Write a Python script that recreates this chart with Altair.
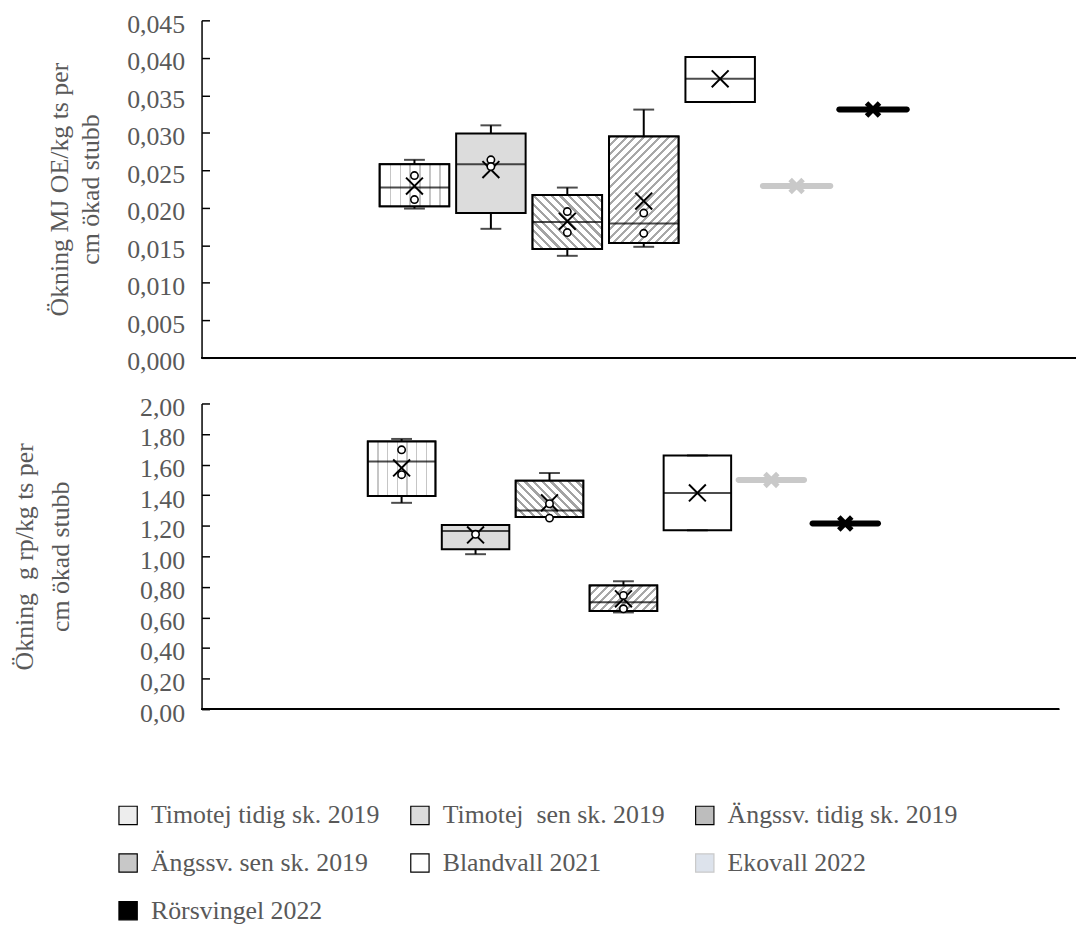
import math
import altair as alt
import pandas as pd

# ---------------- data ----------------
series = ["Timotej tidig sk. 2019", "Timotej\u00a0 sen sk. 2019", "Ängssv. tidig sk. 2019",
          "Ängssv. sen sk. 2019", "Blandvall 2021", "Ekovall 2022", "Rörsvingel 2022"]

# Top panel: Ökning MJ OE/kg ts per cm ökad stubb
mj_whisker_low = [0.0199, 0.0172, 0.0136, 0.0148, 0.0341, 0.0229, 0.0331]
mj_q1 = [0.0202, 0.0193, 0.0145, 0.0153, 0.0341, 0.0229, 0.0331]
mj_median = [0.0227, 0.0258, 0.0181, 0.0179, 0.0372, 0.0229, 0.0331]
mj_q3 = [0.0258, 0.0299, 0.0217, 0.0295, 0.0401, 0.0229, 0.0331]
mj_whisker_high = [0.0264, 0.0310, 0.0227, 0.0331, 0.0401, 0.0229, 0.0331]
mj_mean = [0.0229, 0.0251, 0.0182, 0.0209, 0.0372, 0.0229, 0.0331]
mj_point_series = [series[0], series[0], series[1], series[1], series[2], series[2], series[3], series[3]]
mj_points = [0.0243, 0.0211, 0.0264, 0.0255, 0.0195, 0.0167, 0.0193, 0.0166]
mj_ticks = [0.000, 0.005, 0.010, 0.015, 0.020, 0.025, 0.030, 0.035, 0.040, 0.045]

# Bottom panel: Ökning g rp/kg ts per cm ökad stubb
rp_whisker_low = [1.350, 1.014, 1.257, 0.633, 1.170, 1.500, 1.215]
rp_q1 = [1.394, 1.047, 1.257, 0.642, 1.170, 1.500, 1.215]
rp_median = [1.621, 1.166, 1.300, 0.700, 1.415, 1.500, 1.215]
rp_q3 = [1.751, 1.205, 1.495, 0.809, 1.660, 1.500, 1.215]
rp_whisker_high = [1.768, 1.205, 1.545, 0.837, 1.660, 1.500, 1.215]
rp_mean = [1.578, 1.140, 1.350, 0.722, 1.415, 1.500, 1.215]
rp_point_series = [series[0], series[0], series[1], series[2], series[2], series[3], series[3]]
rp_points = [1.697, 1.534, 1.144, 1.344, 1.250, 0.744, 0.657]
rp_ticks = [0.0, 0.2, 0.4, 0.6, 0.8, 1.0, 1.2, 1.4, 1.6, 1.8, 2.0]

# ---------------- styles ----------------
FONT = "Liberation Serif"
GREY = "#595959"
legend_fill = ["#ededed", "#dcdcdc", "#bdbdbd", "#c8c8c8", "#ffffff", "#dde3ec", "#000000"]
legend_stroke = ["#000000", "#000000", "#000000", "#000000", "#000000", "#c9c9c9", "#000000"]
XPATH = "M-1,-1L1,1M-1,1L1,-1"
SW = 2.0


def stripes(kind, w, h, spacing, color, frac, bg="#ffffff"):
    if kind == "vert":
        x1, y1, x2, y2 = 0, 0, 1, 0
        span = w
    else:
        c = (w + h) / (w * w + h * h)
        a, b = w * c, h * c
        span = (w + h) / math.sqrt(2)
        if kind == "fwd":
            x1, y1, x2, y2 = 0, 0, a, b
        else:
            x1, y1, x2, y2 = 0, 1, a, 1 - b
    n = max(1, round(span / spacing))
    stops = []
    for k in range(n):
        s, m, e = k / n, (k + frac) / n, (k + 1) / n
        stops += [{"offset": s, "color": color}, {"offset": m, "color": color},
                  {"offset": m, "color": bg}, {"offset": e, "color": bg}]
    return {"gradient": "linear", "x1": x1, "y1": y1, "x2": x2, "y2": y2, "stops": stops}


def panel(low, q1, med, q3, high, mean, pser, pvals, ticks, fmt, ymax,
          width, height, band_w, x_range, title, title_pad, title_lh, legend_y):
    df = pd.DataFrame({"series": series, "low": low, "q1": q1, "median": med,
                       "q3": q3, "high": high, "mean": mean})
    pts = pd.DataFrame({"series": pser, "value": pvals})

    step = (x_range[1] - x_range[0]) / len(series)
    p_inner = 1 - band_w / step
    x = alt.X("series:N", sort=series,
              scale=alt.Scale(domain=series, range=x_range, paddingInner=p_inner,
                              paddingOuter=p_inner / 2),
              axis=None)
    yscale = alt.Scale(domain=[0, ymax], nice=False, zero=True)

    label_axis = alt.Axis(values=ticks, orient="left",
                          labelExpr=f"replace(format(datum.value, '{fmt}'), '.', ',')",
                          labelFont=FONT, labelFontSize=26, labelColor=GREY, labelPadding=17,
                          labelOffset=4,
                          ticks=False, domain=True, domainColor="black", domainWidth=1.5,
                          grid=False, title=title, titleFont=FONT, titleFontSize=26,
                          titleFontWeight="normal", titleColor=GREY, titlePadding=title_pad,
                          titleLineHeight=title_lh)
    tick_axis = alt.Axis(values=ticks, orient="left", labels=False, domain=False, ticks=True,
                         tickSize=8, tickWidth=1.5, tickColor="black", offset=-8,
                         title=None, grid=False)

    def Y(field, axis=None):
        return alt.Y(f"{field}:Q", scale=yscale, axis=axis)

    five = alt.FieldOneOfPredicate(field="series", oneOf=series[:5])
    base = alt.Chart(df)

    legend = alt.Legend(orient="none", legendX=-87, legendY=legend_y, direction="horizontal",
                        columns=3, title=None, symbolType="square", symbolSize=340,
                        symbolStrokeWidth=1.2, labelFont=FONT, labelFontSize=26,
                        labelColor=GREY, labelLimit=600, rowPadding=22, columnPadding=27,
                        labelOffset=10, padding=0)

    layers = []
    # plain x-axis line along the bottom of the plot
    layers.append(base.mark_rule(color="black", strokeWidth=1.5).encode(
        x=alt.value(0), x2=alt.value(width), y=alt.value(height)))
    layers.append(base.transform_filter(five).mark_rule(color="black", strokeWidth=SW)
                  .encode(x=x, y=Y("low", label_axis), y2="high:Q"))
    layers.append(base.mark_bar(strokeWidth=SW).encode(
        x=x, y=Y("q1", tick_axis), y2="q3:Q",
        fill=alt.Fill("series:N", sort=series,
                      scale=alt.Scale(domain=series, range=legend_fill), legend=legend),
        stroke=alt.Stroke("series:N", sort=series,
                          scale=alt.Scale(domain=series, range=legend_stroke), legend=legend)))

    px = height / ymax
    patterns = {
        0: ("vert", 10, "#c6c6c6", 0.13),
        2: ("back", 6.4, "#a3a3a3", 0.36),
        3: ("fwd", 6.0, "#a8a8a8", 0.36),
    }
    for i, (kind, sp, col, fr) in patterns.items():
        h = (q3[i] - q1[i]) * px
        grad = stripes(kind, band_w, h, sp, col, fr)
        layers.append(base.transform_filter(alt.datum.series == series[i])
                      .mark_bar(fill=grad, stroke="black", strokeWidth=SW)
                      .encode(x=x, y=Y("q1"), y2="q3:Q"))

    layers.append(base.transform_filter(five)
                  .mark_tick(size=band_w, thickness=SW, color="black")
                  .encode(x=x, y=Y("median")))
    for f in ["low", "high"]:
        layers.append(base.transform_filter(five)
                      .mark_tick(size=21, thickness=SW, color="black")
                      .encode(x=x, y=Y(f)))
    for i, col in [(5, "#c9c9c9"), (6, "#000000")]:
        layers.append(base.transform_filter(alt.datum.series == series[i])
                      .mark_tick(size=band_w + 4, thickness=6, cornerRadius=3, color=col, opacity=1)
                      .encode(x=x, y=Y("median")))
        layers.append(base.transform_filter(alt.datum.series == series[i])
                      .mark_point(shape=XPATH, size=170, filled=False, stroke=col,
                                  strokeWidth=5, opacity=1)
                      .encode(x=x, y=Y("mean")))
    layers.append(base.transform_filter(five)
                  .mark_point(shape=XPATH, size=289, filled=False, stroke="black",
                              strokeWidth=2, opacity=1)
                  .encode(x=x, y=Y("mean")))
    layers.append(alt.Chart(pts)
                  .mark_point(shape="circle", size=55, filled=True, fill="white",
                              stroke="black", strokeWidth=1.6, opacity=1)
                  .encode(x=x, y=Y("value")))

    return (alt.layer(*layers).resolve_axis(y="independent")
            .properties(width=width, height=height))


top = panel(mj_whisker_low, mj_q1, mj_median, mj_q3, mj_whisker_high, mj_mean,
            mj_point_series, mj_points, mj_ticks, ".3f", 0.045,
            881, 340, 70, [176.0, 715.0], ["Ökning  MJ OE/kg ts per", "cm ökad stubb"],
            23, 32, 788)
bottom = panel(rp_whisker_low, rp_q1, rp_median, rp_q3, rp_whisker_high, rp_mean,
               rp_point_series, rp_points, rp_ticks, ".2f", 2.0,
               864, 308, 68, [164.3, 685.8], ["Ökning\u00a0 g rp/kg ts per", "cm ökad stubb"],
               67, 36, 788)

chart = (alt.vconcat(top, bottom, spacing=20)
         .resolve_scale(fill="shared", stroke="shared")
         .configure_view(stroke=None)
         .properties(padding={"left": 3, "top": 0, "right": 0, "bottom": 0}))

chart.save("out.html", embed_options={"renderer": "svg", "actions": False})
